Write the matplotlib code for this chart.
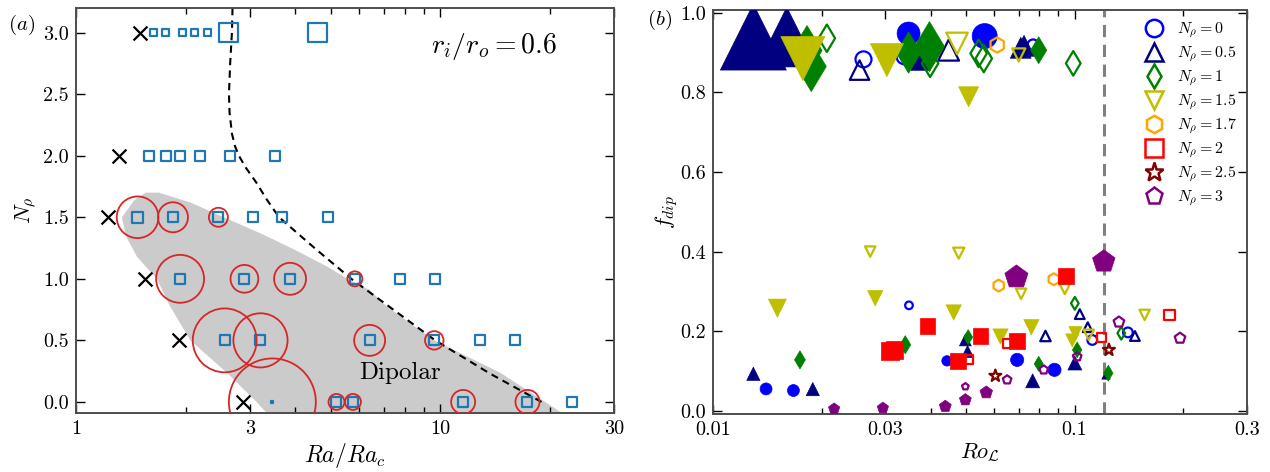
import numpy as np
import matplotlib
matplotlib.use('Agg')
import matplotlib.pyplot as plt
from matplotlib.ticker import FixedLocator, FixedFormatter, NullFormatter
from matplotlib.lines import Line2D

plt.rcParams['font.family'] = 'serif'
plt.rcParams['font.serif'] = ['cmr10', 'DejaVu Serif']
plt.rcParams['mathtext.fontset'] = 'cm'
plt.rcParams['axes.formatter.use_mathtext'] = True
plt.rcParams['axes.unicode_minus'] = False

# ---------------- panel (a) data ----------------
x_ra = [1.503, 1.31, 1.227, 1.549, 1.921, 2.87]
x_n = [3.0, 2.0, 1.5, 1.0, 0.5, 0.0]

sq_ra = [1.632, 1.762, 1.966, 2.118, 2.29, 2.62, 4.59,
         1.583, 1.762, 1.931, 2.194, 2.647, 3.51,
         1.476, 1.846, 2.46, 3.06, 3.67, 4.91,
         1.931, 2.90, 3.87, 5.83, 7.75, 9.70,
         2.56, 3.21, 6.40, 9.63, 12.82, 16.03,
         3.46, 5.19, 5.76, 11.56, 17.36, 23.0]
sq_n = [3.0]*7 + [2.0]*6 + [1.5]*6 + [1.0]*6 + [0.5]*6 + [0.0]*6
sq_ms = [5, 5, 5, 5, 5, 13.7, 13.7,
         7.2, 7.2, 7.2, 7.2, 7.2, 7.2,
         8, 7.2, 7.2, 7.2, 7.2, 7.2,
         7.2, 7.2, 7.2, 7.2, 7.2, 7.2,
         7.2, 7.2, 7.2, 7.2, 7.2, 7.2,
         1.5, 7.2, 7.2, 7.2, 7.2, 7.2]

circ_ra = [1.476, 1.846, 2.46,
           1.931, 2.90, 3.87, 5.83,
           2.56, 3.21, 6.40, 9.63,
           3.46, 5.19, 5.76, 11.56, 17.36]
circ_n = [1.5]*3 + [1.0]*4 + [0.5]*4 + [0.0]*5
circ_ms = [30, 21.6, 13.7,
           34.5, 20, 23, 10.8,
           46, 39, 22.3, 13.3,
           62.6, 11.5, 11.5, 17.3, 17.3]

bound_n = [3.2, 3.0, 2.75, 2.5, 2.35, 2.18, 2.08, 2.0, 1.9, 1.78, 1.65, 1.5, 1.24, 1.0, 0.75, 0.5, 0.23, 0.0]
bound_ra = [2.69, 2.68, 2.65, 2.63, 2.64, 2.68, 2.73, 2.80, 2.93, 3.13, 3.33, 3.61, 4.56, 5.70, 7.43, 9.69, 13.7, 18.97]

region_ra = [1.555, 1.688, 2.06, 2.545, 3.21, 3.96, 4.89, 5.56, 6.39, 7.1, 9.63, 14.66, 19.4, 21.6,
             3.34, 3.13, 2.60, 2.06, 1.81, 1.667, 1.47, 1.37, 1.337, 1.446]
region_n = [1.70, 1.70, 1.62, 1.5, 1.37, 1.24, 1.10, 1.0, 0.91, 0.78, 0.5, 0.235, 0.0, -0.09,
            -0.09, 0.0, 0.235, 0.5, 0.78, 1.0, 1.18, 1.35, 1.5, 1.64]

# ---------------- panel (b) data ----------------
ro0 = [0.01402, 0.01669, 0.04439, 0.0694, 0.0880, 0.03475, 0.05643, 0.03484, 0.02608, 0.0338, 0.0768, 0.112, 0.1405]
f0 = [0.055, 0.051, 0.1255, 0.128, 0.103, 0.948, 0.9415, 0.265, 0.883, 0.89, 0.919, 0.178, 0.197]
ms0 = [8.6, 8.6, 7.5, 9.5, 9.5, 16.5, 18, 5.5, 11.5, 11, 8, 7, 7]
fill0 = [1, 1, 1, 1, 1, 1, 1, 0, 0, 0, 0, 0, 0]

ro05 = [0.01293, 0.0160, 0.01293, 0.01888, 0.0506, 0.0499, 0.0766, 0.1002, 0.1222, 0.0710, 0.0725, 0.0375,
        0.02543, 0.04485, 0.1034, 0.1088, 0.0831, 0.1469]
f05 = [0.939, 0.939, 0.093, 0.0545, 0.149, 0.178, 0.0753, 0.120, 0.09, 0.912, 0.917, 0.88,
       0.856, 0.906, 0.243, 0.210, 0.188, 0.188]
ms05 = [47.5, 43, 9.5, 9.5, 8.5, 8.5, 10, 10, 6, 15, 15, 14,
        14, 15, 7, 7, 7.5, 7]
fill05 = [1]*12 + [0]*6

ro1 = [0.0182, 0.0187, 0.0174, 0.03403, 0.0508, 0.0796, 0.1017, 0.1240, 0.03475, 0.0397, 0.0796,
       0.02065, 0.03986, 0.0543, 0.0561, 0.0992, 0.1002, 0.1347]
f1 = [0.905, 0.865, 0.128, 0.166, 0.185, 0.118, 0.153, 0.0946, 0.900, 0.915, 0.906,
      0.936, 0.873, 0.898, 0.885, 0.873, 0.270, 0.195]
ms1 = [25.5, 25.5, 9.2, 9.2, 7.6, 7.6, 8, 8, 21, 25.5, 13.7,
       14, 14, 14, 14, 12.5, 6.5, 6.5]
fill1 = [1]*11 + [0]*7

ro15 = [0.01772, 0.03027, 0.05095, 0.01507, 0.0281, 0.04632, 0.0760, 0.0624, 0.1006, 0.0986,
        0.04732, 0.07012, 0.02722, 0.04783, 0.07116, 0.0940, 0.1095, 0.1563]
f15 = [0.885, 0.881, 0.789, 0.258, 0.283, 0.247, 0.210, 0.1866, 0.195, 0.1766,
       0.923, 0.894, 0.400, 0.396, 0.294, 0.306, 0.191, 0.241]
ms15 = [31.7, 23.8, 14.4, 13, 11, 11, 11, 11, 9.5, 9.5,
        15.5, 9.5, 7.5, 8, 7.5, 7.5, 7.5, 7.5]
fill15 = [1]*10 + [0]*8

ro17 = [0.0611, 0.0617, 0.08762]
f17 = [0.919, 0.3146, 0.3306]
ms17 = [11, 8.5, 8.5]
fill17 = [0, 0, 0]

ro2 = [0.0309, 0.0318, 0.03924, 0.04751, 0.0549, 0.0694, 0.0946, 0.05095, 0.0651, 0.1186, 0.1833]
f2 = [0.150, 0.153, 0.213, 0.1255, 0.188, 0.176, 0.339, 0.13, 0.170, 0.185, 0.241]
ms2 = [12.5, 12.5, 11, 11.5, 11, 11.5, 11.5, 6.5, 6.5, 6.5, 7.5]
fill2 = [1]*7 + [0]*4

ro25 = [0.0604, 0.1245]
f25 = [0.0879, 0.153]
ms25 = [9, 9]
fill25 = [0, 0]

ro3 = [0.02163, 0.02951, 0.04391, 0.0499, 0.0570, 0.06908, 0.1205, 0.0499, 0.0651, 0.0822, 0.1017, 0.1327, 0.1958]
f3 = [0.005, 0.007, 0.011, 0.0276, 0.046, 0.336, 0.375, 0.061, 0.078, 0.103, 0.136, 0.223, 0.1825]
ms3 = [8.5, 8.5, 9, 9, 9.5, 17.5, 17, 5, 6.5, 6.5, 6.5, 8, 8]
fill3 = [1]*7 + [0]*6

ro_crit = 0.1206

groups = [
    (r'$N_\rho=0$', ro0, f0, ms0, fill0, 'o', '#0000ff'),
    (r'$N_\rho=0.5$', ro05, f05, ms05, fill05, '^', '#000080'),
    (r'$N_\rho=1$', ro1, f1, ms1, fill1, 'd', '#008000'),
    (r'$N_\rho=1.5$', ro15, f15, ms15, fill15, 'v', '#bfbf00'),
    (r'$N_\rho=1.7$', ro17, f17, ms17, fill17, 'h', '#ffa500'),
    (r'$N_\rho=2$', ro2, f2, ms2, fill2, 's', '#ff0000'),
    (r'$N_\rho=2.5$', ro25, f25, ms25, fill25, '*', '#800000'),
    (r'$N_\rho=3$', ro3, f3, ms3, fill3, 'p', '#800080'),
]

# ---------------- figure ----------------
W, H = 1270, 472
fig = plt.figure(figsize=(W/100, H/100), dpi=100)
ax1 = fig.add_axes([76/W, 1-413/H, (614-76)/W, (413-8)/H])
ax2 = fig.add_axes([713/W, 1-414/H, (1247-713)/W, (414-10)/H])

spine_c = '0.3'
for ax in (ax1, ax2):
    for s in ax.spines.values():
        s.set_color(spine_c)
        s.set_linewidth(1.4)
    ax.tick_params(which='both', direction='in', top=True, right=True, width=1.0, color='black')
    ax.tick_params(which='major', length=6.5, labelsize=14.5, pad=5)
    ax.tick_params(which='minor', length=4.5)

# panel (a)
ax1.set_xscale('log')
ax1.fill(region_ra, region_n, color='#cbcbcb', lw=0, zorder=1)
ax1.plot(bound_ra, bound_n, color='black', lw=1.5, ls=(0, (3.5, 2.5)), zorder=2)
ax1.scatter(x_ra, x_n, marker='x', s=10**2, c='black', linewidths=1.6, zorder=3)
ax1.scatter(sq_ra, sq_n, marker='s', s=np.array(sq_ms)**2, facecolors='none',
            edgecolors='#1f77b4', linewidths=1.6, zorder=4)
ax1.scatter(circ_ra, circ_n, marker='o', s=np.array(circ_ms)**2, facecolors='none',
            edgecolors='#d62728', linewidths=1.3, zorder=5)
ax1.set_xlim(1, 30)
ax1.set_ylim(-0.09, 3.2)
ax1.xaxis.set_major_locator(FixedLocator([1, 3, 10, 30]))
ax1.xaxis.set_major_formatter(FixedFormatter(['1', '3', '10', '30']))
ax1.xaxis.set_minor_locator(FixedLocator([2, 4, 5, 6, 7, 8, 9, 20]))
ax1.xaxis.set_minor_formatter(NullFormatter())
yt = [0.0, 0.5, 1.0, 1.5, 2.0, 2.5, 3.0]
ax1.yaxis.set_major_locator(FixedLocator(yt))
ax1.yaxis.set_major_formatter(FixedFormatter(['%.1f' % v for v in yt]))
ax1.set_xlabel(r'$Ra/Ra_c$', fontsize=17, labelpad=2)
ax1.set_ylabel(r'$N_\rho$', fontsize=16, labelpad=4)
ax1.text(7.77, 0.234, 'Dipolar', fontsize=18, ha='center', va='center', zorder=6)
ax1.text(14.06, 2.886, r'$r_i/r_o=0.6$', fontsize=20, ha='center', va='center')
fig.text(22/W, 1-25/H, r'$(a)$', fontsize=15, ha='center', va='center')

# panel (b)
ax2.set_xscale('log')
ax2.axvline(ro_crit, color='#808080', lw=2.2, ls=(0, (4, 2.5)), zorder=1)
handles = []
for lab, ro, f, ms, fl, mk, col in groups:
    ro = np.array(ro); f = np.array(f); ms = np.array(ms); fl = np.array(fl, dtype=bool)
    if (~fl).any():
        ax2.scatter(ro[~fl], f[~fl], marker=mk, s=ms[~fl]**2, facecolors='none',
                    edgecolors=col, linewidths=1.6, zorder=3)
    if fl.any():
        ax2.scatter(ro[fl], f[fl], marker=mk, s=ms[fl]**2, facecolors=col,
                    edgecolors=col, linewidths=0.5, zorder=3)
    handles.append(Line2D([], [], marker=mk, ls='none', markersize=12.5 if mk != '*' else 14,
                          markerfacecolor='none', markeredgecolor=col, markeredgewidth=1.8, label=lab))
ax2.set_xlim(0.01, 0.3)
ax2.set_ylim(-0.008, 1.007)
ax2.xaxis.set_major_locator(FixedLocator([0.01, 0.03, 0.1, 0.3]))
ax2.xaxis.set_major_formatter(FixedFormatter(['0.01', '0.03', '0.1', '0.3']))
ax2.xaxis.set_minor_locator(FixedLocator([0.02, 0.04, 0.05, 0.06, 0.07, 0.08, 0.09, 0.2]))
ax2.xaxis.set_minor_formatter(NullFormatter())
yt2 = [0.0, 0.2, 0.4, 0.6, 0.8, 1.0]
ax2.yaxis.set_major_locator(FixedLocator(yt2))
ax2.yaxis.set_major_formatter(FixedFormatter(['%.1f' % v for v in yt2]))
ax2.set_xlabel(r'$Ro_{\mathcal{L}}$', fontsize=16, labelpad=2)
ax2.set_ylabel(r'$f_{dip}$', fontsize=16, labelpad=0)
fig.text(660/W, 1-20/H, r'$(b)$', fontsize=15, ha='center', va='center')
leg = ax2.legend(handles=handles, loc='upper left', bbox_to_anchor=(0.81, 0.975),
                 frameon=False, fontsize=11.5, handlelength=1.0, handletextpad=0.95,
                 borderpad=0.0, borderaxespad=0.0, labelspacing=0.26)

fig.savefig('out.png', dpi=100)
